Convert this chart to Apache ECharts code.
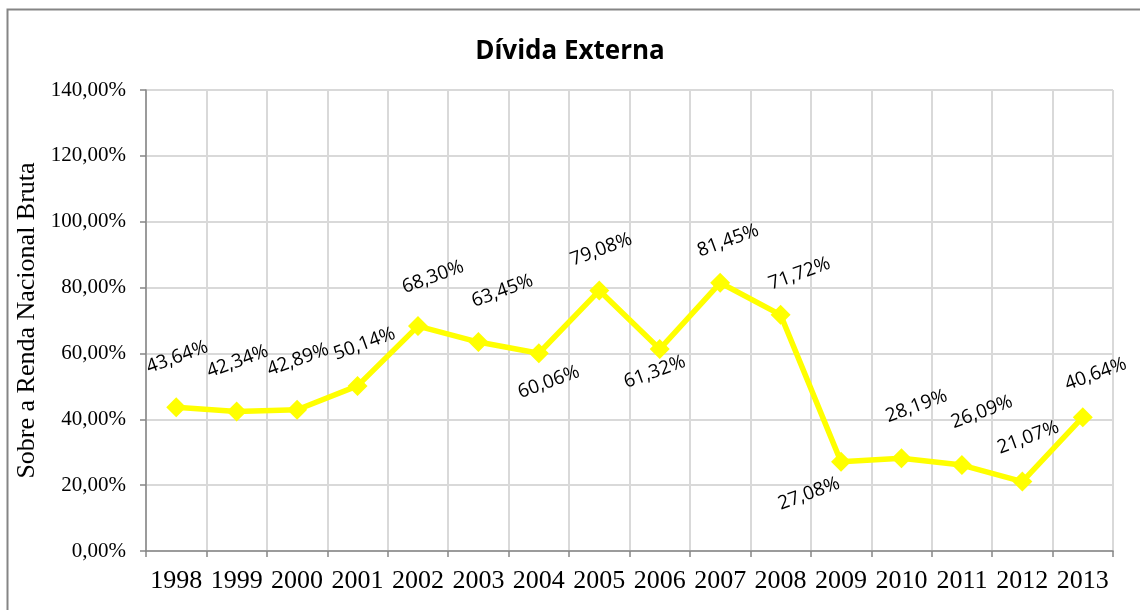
<!DOCTYPE html>
<html>
<head>
<meta charset="utf-8">
<script src="https://cdn.jsdelivr.net/npm/echarts@6/dist/echarts.min.js"></script>
<style>
html,body{margin:0;padding:0;background:#fff;}
#chart{width:1140px;height:610px;}
</style>
</head>
<body>
<div id="chart"></div>
<script>
const title = 'Dívida Externa';
const yAxisName = 'Sobre a Renda Nacional Bruta';
const years = ['1998','1999','2000','2001','2002','2003','2004','2005','2006','2007','2008','2009','2010','2011','2012','2013'];
const debtPct = [43.64, 42.34, 42.89, 50.14, 68.30, 63.45, 60.06, 79.08, 61.32, 81.45, 71.72, 27.08, 28.19, 26.09, 21.07, 40.64];

// label placement on screen (style only)
const labelOffsets = [[1,-50],[1,-50],[1,-50],[7,-42],[15,-49],[24,-51],[10,29],[2,-41],[-5,23],[8,-42],[19,-41],[-32,32],[15,-52],[20,-53],[6,-44],[13,-43]];
const labelRotate = 20;
const rad = labelRotate * Math.PI / 180;
// ECharts applies offset in the rotated frame; convert screen offsets
const toLocal = ([dx, dy]) => [Math.cos(rad) * dx - Math.sin(rad) * dy, Math.sin(rad) * dx + Math.cos(rad) * dy];

const fmt = v => v.toFixed(2).replace('.', ',') + '%';

const chart = echarts.init(document.getElementById('chart'), null, {renderer:'canvas'});
const option = {
  animation: false,
  backgroundColor: '#fff',
  title: {
    text: title,
    left: 'center',
    top: 34,
    textStyle: {fontFamily: 'Open Sans', fontWeight: 'bold', fontSize: 26, color: '#000'}
  },
  graphic: [{
    type: 'rect',
    shape: {x: 7.5, y: 9.5, width: 1200, height: 700},
    style: {fill: 'none', stroke: '#858585', lineWidth: 2},
    silent: true
  }],
  grid: {left: 146, right: 27, top: 90, bottom: 59},
  xAxis: {
    type: 'category',
    data: years,
    boundaryGap: true,
    axisLine: {lineStyle: {color: '#868686', width: 1.5}},
    axisTick: {show: true, interval: 0, length: 6, lineStyle: {color: '#868686', width: 1.5}},
    axisLabel: {interval: 0, margin: 17, color: '#000', fontFamily: 'Liberation Serif', fontSize: 26},
    splitLine: {show: true, interval: 0, lineStyle: {color: '#d9d9d9', width: 2}}
  },
  yAxis: {
    type: 'value',
    min: 0, max: 140, interval: 20,
    name: yAxisName,
    nameLocation: 'middle',
    nameGap: 103,
    nameTextStyle: {fontFamily: 'Liberation Serif', fontSize: 26, color: '#000'},
    axisLine: {show: true, lineStyle: {color: '#868686', width: 1.5}},
    axisTick: {show: true, length: 6, lineStyle: {color: '#868686', width: 1.5}},
    axisLabel: {formatter: fmt, margin: 20, color: '#000', fontFamily: 'Liberation Serif', fontSize: 21},
    splitLine: {show: true, lineStyle: {color: '#d9d9d9', width: 2}}
  },
  series: [{
    type: 'line',
    data: debtPct.map((v, i) => ({value: v, label: {offset: toLocal(labelOffsets[i])}})),
    symbol: 'diamond',
    symbolSize: 20,
    itemStyle: {color: '#ffff00'},
    lineStyle: {color: '#ffff00', width: 5.5},
    label: {
      show: true,
      position: 'inside',
      rotate: labelRotate,
      align: 'center',
      verticalAlign: 'middle',
      formatter: p => fmt(p.value),
      color: '#000',
      fontFamily: 'Open Sans',
      fontSize: 19
    },
    z: 3
  }]
};
chart.setOption(option);
</script>
</body>
</html>
